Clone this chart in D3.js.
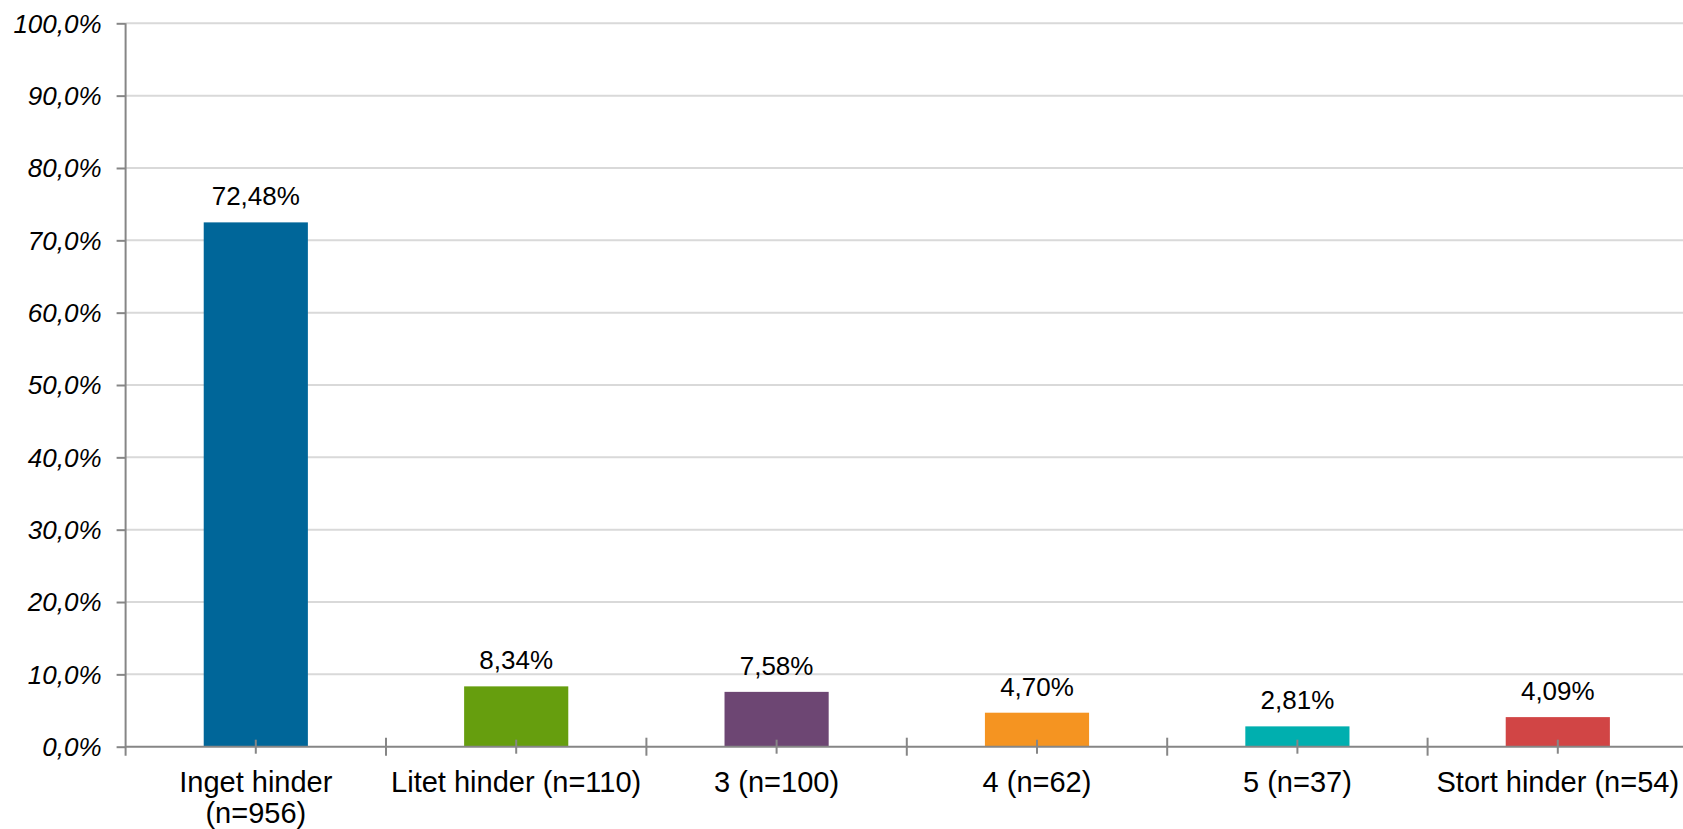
<!DOCTYPE html>
<html>
<head>
<meta charset="utf-8">
<script src="https://cdn.jsdelivr.net/npm/d3@7/dist/d3.min.js"></script>
<style>
  html, body { margin: 0; padding: 0; background: #ffffff; }
  svg { display: block; }
</style>
</head>
<body>
<svg id="chart" width="1683" height="829"></svg>
<script>
// ---- data ----
const categories = ["Inget hinder (n=956)", "Litet hinder (n=110)", "3 (n=100)", "4 (n=62)", "5 (n=37)", "Stort hinder (n=54)"];
const categoryLines = [["Inget hinder", "(n=956)"], ["Litet hinder (n=110)"], ["3 (n=100)"], ["4 (n=62)"], ["5 (n=37)"], ["Stort hinder (n=54)"]];
const values = [72.48, 8.34, 7.58, 4.70, 2.81, 4.09];
const valueLabels = ["72,48%", "8,34%", "7,58%", "4,70%", "2,81%", "4,09%"];
const barColors = ["#006699", "#669e0e", "#6d4673", "#f59421", "#00afaf", "#d14545"];
const yTicks = [0, 10, 20, 30, 40, 50, 60, 70, 80, 90, 100];
const yTickLabels = ["0,0%", "10,0%", "20,0%", "30,0%", "40,0%", "50,0%", "60,0%", "70,0%", "80,0%", "90,0%", "100,0%"];

(function () {
  // ---- layout ----
  const svg = d3.select("#chart");
  const mLeft = 125.6, mRight = 1688, mTop = 23.3, mBottom = 746.7;
  const font = "Arial, 'Liberation Sans', sans-serif";

  const x = d3.scaleBand().domain(categories).range([mLeft, mRight]).paddingInner(0).paddingOuter(0);
  const bw = x.bandwidth() / 2.5; // gap width 150%
  const y = d3.scaleLinear().domain([0, 100]).range([mBottom, mTop]);

  // gridlines
  svg.append("g").selectAll("line")
    .data(yTicks.filter(d => d > 0))
    .join("line")
    .attr("x1", mLeft).attr("x2", 1683)
    .attr("y1", d => y(d)).attr("y2", d => y(d))
    .attr("stroke", "#d9d9d9").attr("stroke-width", 2);

  // bars
  svg.append("g").selectAll("rect")
    .data(values)
    .join("rect")
    .attr("x", (d, i) => x(categories[i]) + x.bandwidth() / 2 - bw / 2)
    .attr("width", bw)
    .attr("y", d => y(d))
    .attr("height", d => y(0) - y(d))
    .attr("fill", (d, i) => barColors[i]);

  // y axis
  const yAxis = d3.axisLeft(y).tickValues(yTicks).tickSize(9)
    .tickFormat((d, i) => yTickLabels[i]);
  const gy = svg.append("g").attr("transform", `translate(${mLeft},0)`).call(yAxis);
  gy.select(".domain").attr("stroke", "#868686").attr("stroke-width", 2)
    .attr("d", `M0,${mTop}V${mBottom + 9}`);
  gy.selectAll(".tick line").attr("stroke", "#868686").attr("stroke-width", 2);
  gy.selectAll(".tick text")
    .attr("x", -24)
    .attr("dy", "0.34em")
    .attr("fill", "#000")
    .style("font-family", font)
    .style("font-size", "26px")
    .style("font-style", "italic");

  // x axis line
  svg.append("line")
    .attr("x1", mLeft).attr("x2", 1683)
    .attr("y1", mBottom).attr("y2", mBottom)
    .attr("stroke", "#868686").attr("stroke-width", 2);

  // boundary ticks (crossing)
  const bounds = categories.map(c => x(c)).slice(1).concat([mRight]);
  svg.append("g").selectAll("line")
    .data(bounds)
    .join("line")
    .attr("x1", d => d).attr("x2", d => d)
    .attr("y1", mBottom - 9).attr("y2", mBottom + 9)
    .attr("stroke", "#868686").attr("stroke-width", 2);

  // center ticks
  svg.append("g").selectAll("line")
    .data(categories)
    .join("line")
    .attr("x1", d => x(d) + x.bandwidth() / 2).attr("x2", d => x(d) + x.bandwidth() / 2)
    .attr("y1", mBottom - 7).attr("y2", mBottom + 7)
    .attr("stroke", "#868686").attr("stroke-width", 2);

  // category labels
  const lab = svg.append("g").selectAll("text")
    .data(categories)
    .join("text")
    .attr("x", d => x(d) + x.bandwidth() / 2)
    .attr("y", 792)
    .attr("text-anchor", "middle")
    .attr("fill", "#000")
    .style("font-family", font)
    .style("font-size", "29px");
  lab.each(function (d, i) {
    const t = d3.select(this);
    categoryLines[i].forEach((line, j) => {
      t.append("tspan")
        .attr("x", x(d) + x.bandwidth() / 2)
        .attr("dy", j === 0 ? 0 : 31)
        .text(line);
    });
  });

  // value labels
  svg.append("g").selectAll("text")
    .data(values)
    .join("text")
    .attr("x", (d, i) => x(categories[i]) + x.bandwidth() / 2)
    .attr("y", d => y(d) - 17)
    .attr("text-anchor", "middle")
    .attr("fill", "#000")
    .style("font-family", font)
    .style("font-size", "26px")
    .text((d, i) => valueLabels[i]);
})();
</script>
</body>
</html>
